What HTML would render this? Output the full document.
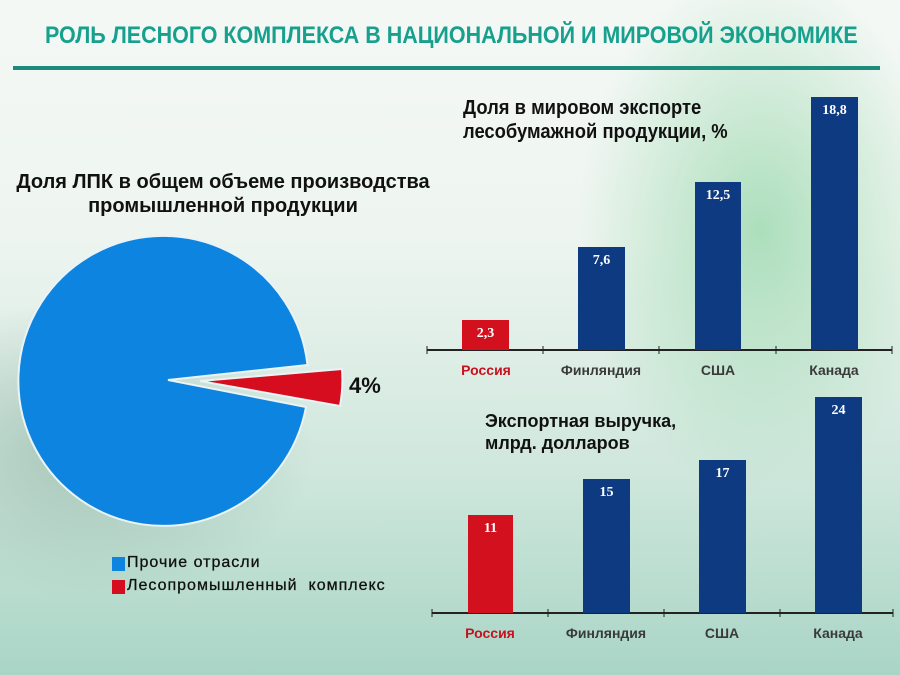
<!DOCTYPE html>
<html><head><meta charset="utf-8"><style>
html,body{margin:0;padding:0}
body{width:900px;height:675px;position:relative;overflow:hidden;font-family:"Liberation Sans",sans-serif;
background:
radial-gradient(ellipse 260px 380px at 760px 230px,rgba(150,215,170,0.75),rgba(150,215,170,0) 70%),
radial-gradient(ellipse 300px 200px at 90px 450px,rgba(140,175,160,0.6),rgba(140,175,160,0) 75%),
linear-gradient(180deg,#f4f8f5 0%,#eef5f0 35%,#cfe7dc 70%,#a9d5c6 100%);}
.t{position:absolute;white-space:nowrap}
.narrow{font-family:"Liberation Sans Narrow","Liberation Sans",sans-serif;font-weight:bold}
.bar{position:absolute;background:#0d3a80;color:#fff;font-family:"Liberation Serif",serif;font-weight:bold;font-size:14px;text-align:center;padding-top:6px;box-sizing:border-box}
.red{background:#d2101e}
.lab{position:absolute;font-weight:bold;font-size:14px;color:#3a3a3a;text-align:center;width:116px}
</style></head><body>
<div class="t narrow" style="left:45px;top:22px;font-size:24px;color:#17a08e;transform:scaleX(0.895);transform-origin:left top">РОЛЬ ЛЕСНОГО КОМПЛЕКСА В НАЦИОНАЛЬНОЙ И МИРОВОЙ ЭКОНОМИКЕ</div>
<div style="position:absolute;left:13px;top:66px;width:867px;height:4px;background:#1e8a7c"></div>

<div class="t narrow" style="left:463px;top:96px;font-size:20px;line-height:24px;color:#111;transform:scaleX(0.92);transform-origin:left top">Доля в мировом экспорте<br>лесобумажной продукции, %</div>
<div class="t narrow" style="left:12px;top:170px;width:422px;text-align:center;font-size:20px;line-height:24px;color:#111">Доля ЛПК в общем объеме производства<br>промышленной продукции</div>

<svg style="position:absolute;left:0;top:0" width="900" height="675">
<path d="M168,380 L307.5,365 A145,145 0 1,0 306,407 Z" fill="#0d85e0" stroke="#eaf3f5" stroke-width="2"/>
<path d="M200,381 L342,369 A145,145 0 0,1 340,406 Z" fill="#d60d1e" stroke="#eaf3f5" stroke-width="2"/>
<line x1="427" y1="350" x2="892" y2="350" stroke="#222" stroke-width="2"/>
<line x1="427" y1="346" x2="427" y2="354" stroke="#222"/><line x1="543" y1="346" x2="543" y2="354" stroke="#222"/><line x1="659" y1="346" x2="659" y2="354" stroke="#222"/><line x1="776" y1="346" x2="776" y2="354" stroke="#222"/><line x1="892" y1="346" x2="892" y2="354" stroke="#222"/>
<line x1="432" y1="613" x2="893" y2="613" stroke="#222" stroke-width="2"/>
<line x1="432" y1="609" x2="432" y2="617" stroke="#222"/><line x1="548" y1="609" x2="548" y2="617" stroke="#222"/><line x1="664" y1="609" x2="664" y2="617" stroke="#222"/><line x1="780" y1="609" x2="780" y2="617" stroke="#222"/><line x1="893" y1="609" x2="893" y2="617" stroke="#222"/>
</svg>
<div class="t" style="left:349px;top:373px;font-size:22px;font-weight:bold;color:#111">4%</div>

<div class="bar red" style="left:462px;top:320px;width:47px;height:30px">2,3</div>
<div class="bar" style="left:578px;top:247px;width:47px;height:103px">7,6</div>
<div class="bar" style="left:695px;top:182px;width:46px;height:168px">12,5</div>
<div class="bar" style="left:811px;top:97px;width:47px;height:253px">18,8</div>
<div class="lab" style="left:428px;top:362px;color:#c8101e">Россия</div>
<div class="lab" style="left:543px;top:362px">Финляндия</div>
<div class="lab" style="left:660px;top:362px">США</div>
<div class="lab" style="left:776px;top:362px">Канада</div>

<div class="t" style="left:485px;top:410px;font-size:18px;line-height:22px;font-weight:bold;color:#111">Экспортная выручка,<br>млрд. долларов</div>
<div class="bar red" style="left:468px;top:515px;width:45px;height:98px">11</div>
<div class="bar" style="left:583px;top:479px;width:47px;height:134px">15</div>
<div class="bar" style="left:699px;top:460px;width:47px;height:153px">17</div>
<div class="bar" style="left:815px;top:397px;width:47px;height:216px">24</div>
<div class="lab" style="left:432px;top:625px;color:#c8101e">Россия</div>
<div class="lab" style="left:548px;top:625px">Финляндия</div>
<div class="lab" style="left:664px;top:625px">США</div>
<div class="lab" style="left:780px;top:625px">Канада</div>

<div style="position:absolute;left:112px;top:557px;width:13px;height:14px;background:#0d85e0"></div>
<div class="t" style="left:127px;top:554px;font-size:16px;color:#111;letter-spacing:1px;-webkit-text-stroke:0.3px #111">Прочие отрасли</div>
<div style="position:absolute;left:112px;top:580px;width:13px;height:14px;background:#d60d1e"></div>
<div class="t" style="left:127px;top:577px;font-size:16px;color:#111;letter-spacing:1px;-webkit-text-stroke:0.3px #111">Лесопромышленный&nbsp; комплекс</div>
</body></html>
